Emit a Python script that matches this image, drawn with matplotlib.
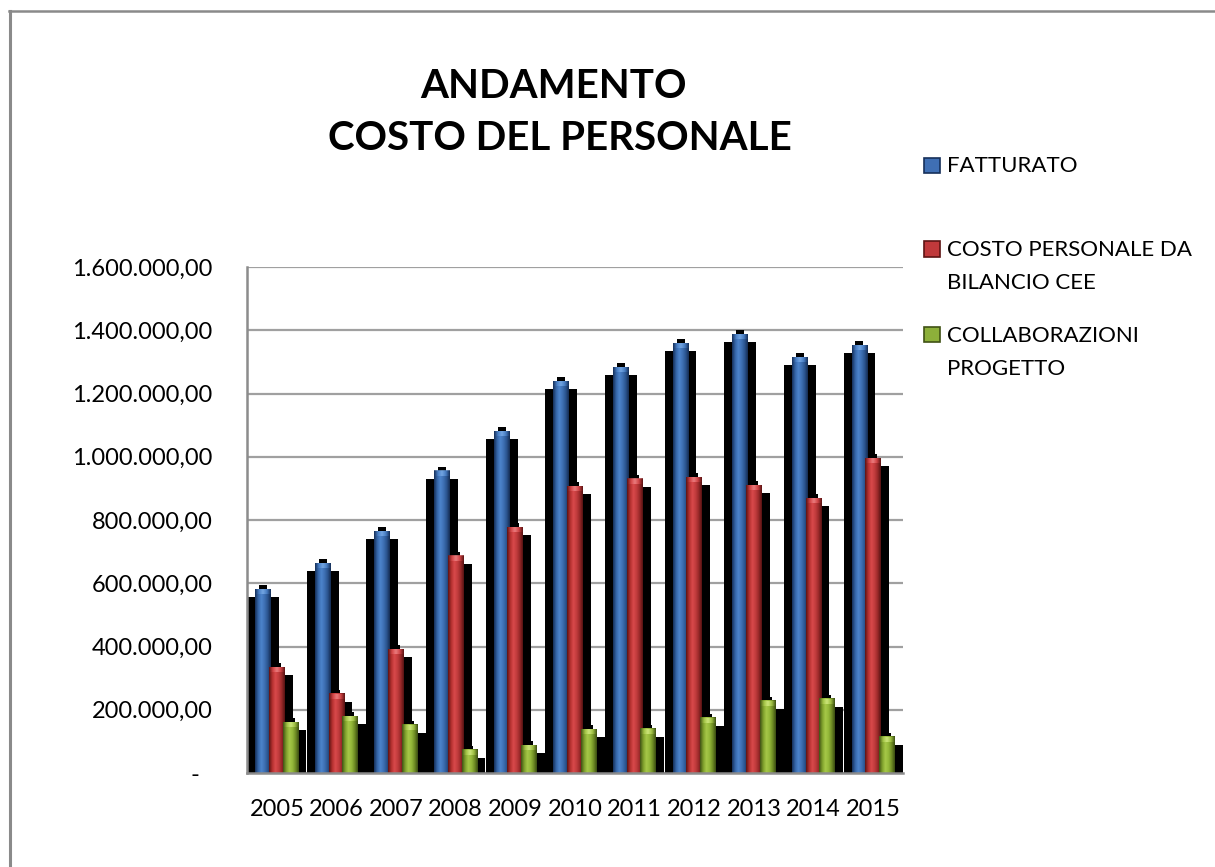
import numpy as np
import matplotlib
matplotlib.use("Agg")
import matplotlib.pyplot as plt
from matplotlib.colors import LinearSegmentedColormap
from matplotlib.patches import Rectangle
from matplotlib.lines import Line2D
from matplotlib.ticker import FuncFormatter, MultipleLocator

# ---------------- data ----------------
years = ["2005", "2006", "2007", "2008", "2009", "2010", "2011", "2012", "2013", "2014", "2015"]
fatturato = [581000, 664000, 765000, 954000, 1081000, 1239000, 1283000, 1359000, 1387000, 1315000, 1352000]
costo_personale = [335000, 250000, 392000, 686000, 777000, 907000, 929000, 935000, 910000, 869000, 995000]
collaborazioni = [161000, 180000, 152000, 73000, 88000, 139000, 140000, 174000, 228000, 234000, 114000]
series_names = ["FATTURATO", "COSTO PERSONALE DA\nBILANCIO CEE", "COLLABORAZIONI\nPROGETTO"]
title_lines = ["ANDAMENTO", "COSTO DEL PERSONALE"]

# ---------------- style ----------------
W, H = 1215, 867
FONT = ["Lato", "DejaVu Sans"]
plt.rcParams["font.family"] = FONT

grad_colors = [
    ["#16305a", "#3566a8", "#4d84cc", "#3e70b4", "#2c5590", "#142c52"],
    ["#5e1414", "#b3302f", "#d9494b", "#c23c3d", "#9a2a2a", "#561212"],
    ["#3f5214", "#7e9f2c", "#a6c848", "#94b83a", "#6f8c24", "#3a4c12"],
]
top_light = ["#7fb0ea", "#f08a8c", "#d8ee88"]
legend_face = ["#3f6fb4", "#c0393b", "#8db03a"]
legend_edge = ["#16305a", "#5e1414", "#3f5214"]

fig = plt.figure(figsize=(W / 100, H / 100), dpi=100)
fig.patch.set_facecolor("white")

ax_l, ax_r, ax_t, ax_b = 247, 903, 267, 773
ax = fig.add_axes([ax_l / W, 1 - ax_b / H, (ax_r - ax_l) / W, (ax_b - ax_t) / H])

ymax = 1600000
n = len(years)
x = np.arange(n)
px_x = (ax_r - ax_l) / n          # pixels per category
px_y = (ax_b - ax_t) / ymax       # pixels per value unit

bar_w = 0.265
step = 0.23
offsets = [-step, 0.0, step]
sh_dx = 8 / px_x                  # shadow spread (data units)
sh_dy = 8 / px_y
cap_h = 4 / px_y
cap_w = 8 / px_x

all_series = [fatturato, costo_personale, collaborazioni]

grad = np.linspace(0, 1, 64)[np.newaxis, :]

# shadows
for s, vals in enumerate(all_series):
    for i, v in enumerate(vals):
        xc = x[i] + offsets[s]
        ax.add_patch(Rectangle((xc - bar_w / 2 - sh_dx, 0), bar_w + 2 * sh_dx, max(v - sh_dy, 0),
                               facecolor="black", edgecolor="none", zorder=2))
        ax.add_patch(Rectangle((xc - cap_w / 2, 0), cap_w, v + cap_h,
                               facecolor="black", edgecolor="none", zorder=2))

# bars with cylinder shading
for s, vals in enumerate(all_series):
    cmap = LinearSegmentedColormap.from_list(f"c{s}", grad_colors[s])
    top_cmap = LinearSegmentedColormap.from_list(
        f"t{s}", [grad_colors[s][0], grad_colors[s][2], top_light[s], grad_colors[s][2], grad_colors[s][0]])
    for i, v in enumerate(vals):
        xc = x[i] + offsets[s]
        x0, x1 = xc - bar_w / 2, xc + bar_w / 2
        ax.imshow(grad, extent=[x0, x1, 0, v], cmap=cmap, aspect="auto",
                  interpolation="bilinear", zorder=3 + s * 0.1)
        th = 5 / px_y
        ax.imshow(grad, extent=[x0, x1, v - th, v], cmap=top_cmap, aspect="auto",
                  interpolation="bilinear", zorder=3.05 + s * 0.1, alpha=0.8)

ax.set_xlim(-0.5, n - 0.5)
ax.set_ylim(0, ymax)

ax.yaxis.set_major_locator(MultipleLocator(200000))


def fmt(v, pos):
    if abs(v) < 1:
        return "-  "
    s = f"{v:,.2f}"
    return s.replace(",", "X").replace(".", ",").replace("X", ".")


ax.yaxis.set_major_formatter(FuncFormatter(fmt))
ax.set_xticks(x)
ax.set_xticklabels(years)
ax.tick_params(axis="x", length=0, pad=19, labelsize=17)
ax.tick_params(axis="y", length=0, pad=25, labelsize=17)

ax.grid(axis="y", color="#a0a0a0", linewidth=1.6, zorder=1)
ax.set_axisbelow(True)
for side in ["top", "right"]:
    ax.spines[side].set_visible(False)
for side in ["left", "bottom"]:
    ax.spines[side].set_color("#8c8c8c")
    ax.spines[side].set_linewidth(1.8)
    ax.spines[side].set_zorder(5)

# title
fig.text(553 / W, 1 - 98 / H, title_lines[0], ha="center", va="baseline",
         fontsize=29, fontweight="bold")
fig.text(560 / W, 1 - 150 / H, title_lines[1], ha="center", va="baseline",
         fontsize=29, fontweight="bold")

# legend
leg_rows = [(165.5, [171.7]), (249, [256, 289]), (334, [341.7, 374.7])]
for s, (sq_y, baselines) in enumerate(leg_rows):
    size = 15
    fig.add_artist(Rectangle(((932 - size / 2) / W, 1 - (sq_y + size / 2) / H), size / W, size / H,
                             transform=fig.transFigure, facecolor=legend_face[s],
                             edgecolor=legend_edge[s], linewidth=1.2))
    for line, b in zip(series_names[s].split("\n"), baselines):
        fig.text(947 / W, 1 - b / H, line, ha="left", va="baseline", fontsize=16)

# outer border (top and left)
fig.add_artist(Line2D([8.5 / W, 1], [1 - 11 / H, 1 - 11 / H], transform=fig.transFigure,
                      color="#8a8a8a", linewidth=1.8))
fig.add_artist(Line2D([9.5 / W, 9.5 / W], [0, 1 - 11 / H], transform=fig.transFigure,
                      color="#8a8a8a", linewidth=2.2))

fig.savefig("out.png", dpi=100)
